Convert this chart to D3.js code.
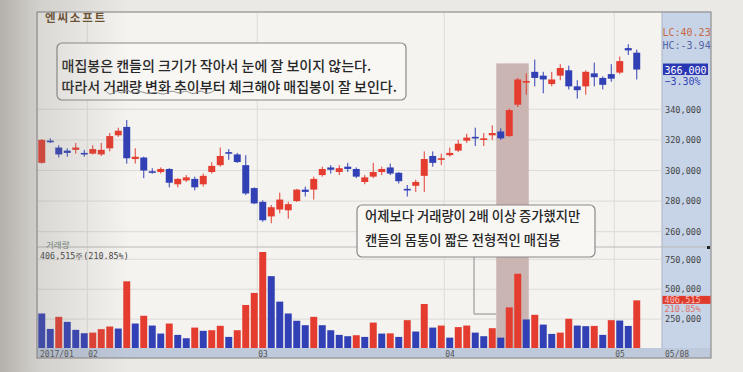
<!DOCTYPE html>
<html>
<head>
<meta charset="utf-8">
<script src="https://cdn.jsdelivr.net/npm/d3@7"></script>
<style>
  body { margin: 0; background: #eae8e4; overflow: hidden; }
  svg { display: block; }
</style>
</head>
<body>
<script>
// daily candles, 2017/01 .. 05/08 (71 trading days)
const opens  = [305000,319500,315000,313000,313500,311500,311000,310500,314500,323000,
                328500,307500,308500,299500,299000,301000,291000,293500,294500,291000,
                299000,303500,312000,310500,303500,288500,279500,270000,274500,274000,
                280000,287500,287500,297000,302000,299000,302500,301000,292500,296000,
                299000,302000,298500,288000,290000,296500,309500,307000,310000,313000,
                319500,322000,320000,323000,325500,322500,343000,357500,364500,362000,
                356500,362000,365500,355000,355000,363500,360500,363000,364000,380000,
                377000];
const highs  = [320500,321000,316500,314500,318000,313500,316500,318000,324500,328000,
                333000,314500,309000,301500,302000,301500,295000,297000,296000,298000,
                305500,315000,314000,311500,310000,289000,280500,277500,285500,279500,
                288000,289500,296000,302500,303500,303500,305000,302000,297000,305000,
                302500,304500,299000,290500,294000,312500,312500,311000,315000,320000,
                324000,328000,324500,329500,327500,340500,360500,363500,372500,364500,
                364500,369500,368500,359000,365500,370500,361500,369500,374500,382500,
                379000];
const lows   = [304500,318000,308500,309000,311000,309000,310500,309500,312500,322000,
                304500,304500,295000,298000,298000,289000,289000,292500,287000,289500,
                298000,302500,307000,305000,284000,278000,266500,265500,272000,268500,
                279500,283000,281000,296000,298000,297000,299000,295000,291000,295000,
                297000,297000,291500,283000,286000,286000,302500,303500,309000,312000,
                318000,316000,316000,320000,320000,322000,341500,349500,355000,350500,
                355000,359000,353000,347000,349500,355000,353000,358000,363000,375500,
                359500];
const closes = [320000,319000,310500,311500,315000,310500,314000,313500,322500,326000,
                308000,309000,300000,298500,301000,292000,294500,295500,289000,296500,
                303000,309500,311000,305500,285000,278500,267500,276000,281000,278000,
                287500,286000,294500,301000,300500,301500,301000,296000,295500,299000,
                301000,298000,293000,287500,292500,307500,305000,308000,311500,317500,
                321500,321000,321000,324500,321000,339500,359500,358500,360500,359500,
                359500,367000,355000,352500,364500,361000,356000,360000,371500,378500,
                366000];
const volumes = [297000,168000,269000,227000,160000,132000,137000,166000,188000,171000,
                 566000,213000,278000,196000,129000,213000,118000, 90000,179000,152000,
                 157000,194000,101000,157000,368000,469000,811000,609000,396000,297000,
                 236000,199000,269000,199000,157000,118000,107000,115000,101000,221000,
                 129000,131000,101000,241000,146000,376000,179000,196000, 95000,183000,
                 196000,137000,107000,174000, 95000,348000,629000,247000,286000,204000,
                 126000,137000,253000,196000,191000,193000,118000,241000,238000,192800,
                 406515];

// month starts on the date axis (index of first trading day)
const monthIdx    = [0, 6, 26, 48, 68];
const monthLabels = ["2017/01", "02", "03", "04", "05"];
const priceTicks  = [260000, 280000, 300000, 320000, 340000];
const volTicks    = [250000, 500000, 750000];

const note1 = ["매집봉은 캔들의 크기가 작아서 눈에 잘 보이지 않는다.",
               "따라서 거래량 변화 추이부터 체크해야 매집봉이 잘 보인다."];
const note2 = ["어제보다 거래량이 2배 이상 증가했지만",
               "캔들의 몸통이 짧은 전형적인 매집봉"];

const RED = "#e43c2f", BLUE = "#3240b5";
const KR = "'Noto Sans CJK KR', 'Noto Sans', sans-serif";
const MONO = "'DejaVu Sans Mono', monospace";

/** Class drawing the HTS style candle + volume chart. */
class StockChart {
  constructor() {
    this.svg = d3.select("body").append("svg").attr("width", 743).attr("height", 372);
    this.x = d3.scaleBand().domain(d3.range(opens.length)).range([37.5, 641])
               .paddingInner(0.18).paddingOuter(0.09);
    this.yPrice = d3.scaleLinear().domain([260000, 340000]).range([231.7, 109.3]);
    this.yVol = d3.scaleLinear().domain([0, 750000]).range([349, 259.3]);
  }

  /** paper, frame, side panel, grid */
  drawBackground() {
    const svg = this.svg;
    const defs = svg.append("defs");
    const sh = defs.append("linearGradient").attr("id", "shade");
    sh.append("stop").attr("offset", 0).attr("stop-color", "#7d7974").attr("stop-opacity", 0.5);
    sh.append("stop").attr("offset", 0.3).attr("stop-color", "#7d7974").attr("stop-opacity", 0.22);
    sh.append("stop").attr("offset", 1).attr("stop-color", "#7d7974").attr("stop-opacity", 0);

    svg.append("rect").attr("width", 743).attr("height", 372).attr("fill", "#ebe9e5");
    svg.append("rect").attr("x", 37).attr("y", 12).attr("width", 674).attr("height", 346)
       .attr("fill", "#f4f3f0");
    // right value panel
    svg.append("rect").attr("x", 662).attr("y", 12).attr("width", 49).attr("height", 336)
       .attr("fill", "#c7d4e8");
    svg.append("line").attr("x1", 662).attr("x2", 662).attr("y1", 12).attr("y2", 348)
       .attr("stroke", "#aab4c4");

    const grid = svg.append("g").attr("stroke", "#dcdbd7").attr("stroke-width", 1);
    grid.selectAll(".pg").data(priceTicks).join("line")
        .attr("x1", 37).attr("x2", 662)
        .attr("y1", d => this.yPrice(d)).attr("y2", d => this.yPrice(d));
    grid.selectAll(".vg").data(volTicks).join("line")
        .attr("x1", 37).attr("x2", 662)
        .attr("y1", d => this.yVol(d)).attr("y2", d => this.yVol(d));
    grid.selectAll(".mg").data(monthIdx.slice(1)).join("line")
        .attr("x1", d => this.x(d) - 2).attr("x2", d => this.x(d) - 2)
        .attr("y1", 12).attr("y2", 348);

    // separator between price and volume panes
    svg.append("line").attr("x1", 37).attr("x2", 711).attr("y1", 247).attr("y2", 247)
       .attr("stroke", "#b9b9b9");
    svg.append("rect").attr("x", 707).attr("y", 246).attr("width", 3).attr("height", 3).attr("fill", "#222");
  }

  /** shaded column behind the two accumulation days + its leader */
  drawHighlight() {
    const x0 = this.x(54) - 1, x1 = this.x(57) + this.x.bandwidth() - 1;
    this.svg.append("rect").attr("x", x0).attr("y", this.yPrice(370000))
        .attr("width", x1 - x0).attr("height", 348 - this.yPrice(370000))
        .attr("fill", "#cbb5b2");
    this.svg.append("path").attr("d", `M474,257V314H${x0}`)
        .attr("fill", "none").attr("stroke", "#8a8a8a").attr("stroke-width", 1);
  }

  drawCandles() {
    const x = this.x, y = this.yPrice, bw = x.bandwidth();
    const data = opens.map((o, i) => ({ i, o, h: highs[i], l: lows[i], c: closes[i] }));
    const g = this.svg.append("g").selectAll("g").data(data).join("g")
        .attr("fill", d => d.c >= d.o ? RED : BLUE)
        .attr("stroke", d => d.c >= d.o ? RED : BLUE);
    g.append("line")
        .attr("x1", d => x(d.i) + bw / 2).attr("x2", d => x(d.i) + bw / 2)
        .attr("y1", d => y(d.h)).attr("y2", d => y(d.l)).attr("stroke-width", 1);
    g.append("rect")
        .attr("x", d => x(d.i)).attr("width", bw)
        .attr("y", d => y(Math.max(d.o, d.c)))
        .attr("height", d => Math.max(1.6, Math.abs(y(d.o) - y(d.c))))
        .attr("stroke", "none");
  }

  drawVolume() {
    const x = this.x, y = this.yVol;
    this.svg.append("g").selectAll("rect").data(volumes).join("rect")
        .attr("x", (d, i) => x(i)).attr("width", x.bandwidth())
        .attr("y", d => y(d)).attr("height", d => y(0) - y(d))
        .attr("fill", (d, i) => i > 0 && d >= volumes[i - 1] ? RED : BLUE);
  }

  drawAxes() {
    const svg = this.svg;
    const fmt = d3.format(",");
    const pa = svg.append("g").attr("transform", "translate(662,0)")
        .call(d3.axisRight(this.yPrice).tickValues(priceTicks).tickSize(0).tickPadding(3).tickFormat(fmt));
    const va = svg.append("g").attr("transform", "translate(662,0)")
        .call(d3.axisRight(this.yVol).tickValues(volTicks).tickSize(0).tickPadding(3).tickFormat(fmt));
    for (const a of [pa, va]) {
      a.select(".domain").remove();
      a.selectAll("text").attr("font-family", MONO).attr("font-size", 8.6).attr("fill", "#444");
    }

    // date strip
    svg.append("rect").attr("x", 37).attr("y", 348).attr("width", 674).attr("height", 10)
       .attr("fill", "#bec9db");
    svg.append("g").selectAll("text").data(monthIdx).join("text")
       .attr("x", (d, i) => i === 0 ? 40 : this.x(d) - 1).attr("y", 356.5)
       .attr("font-family", MONO).attr("font-size", 8).attr("fill", "#555")
       .text((d, i) => monthLabels[i]);
    svg.append("text").attr("x", 665).attr("y", 356.5).attr("font-family", MONO)
       .attr("font-size", 8).attr("fill", "#555").text("05/08");

    // frame
    svg.append("rect").attr("x", 37).attr("y", 12).attr("width", 674).attr("height", 346)
       .attr("fill", "none").attr("stroke", "#8f8f8f").attr("stroke-width", 1.2);
  }

  /** current value tags on the right panel */
  drawTags() {
    const svg = this.svg;
    const last = closes[closes.length - 1], prev = closes[closes.length - 2];
    const vLast = volumes[volumes.length - 1], vPrev = volumes[volumes.length - 2];
    const t = (x, y, s, fill, size) => svg.append("text").attr("x", x).attr("y", y)
        .attr("font-family", MONO).attr("font-size", size).attr("fill", fill).text(s);

    t(662.5, 36, "LC:40.23", "#c8683f", 10);
    t(662.5, 48.5, "HC:-3.94", "#5565a3", 10);
    const yl = this.yPrice(last);
    svg.append("rect").attr("x", 663).attr("y", yl - 6).attr("width", 45).attr("height", 11.5).attr("fill", "#2a38b3");
    t(664.5, yl + 4, d3.format(",")(last), "#fff", 10);
    t(664.5, yl + 15, d3.format(".2%")(last / prev - 1), "#3444b4", 10);

    const yv = this.yVol(vLast);
    svg.append("rect").attr("x", 662.5).attr("y", yv - 4.5).attr("width", 48).attr("height", 8).attr("fill", "#e03a2c");
    t(664.5, yv + 2.5, d3.format(",")(vLast), "#f7c3bd", 8.6);
    t(664.5, yv + 11.5, d3.format(".2%")(vLast / vPrev), "#df7468", 8.6);

    // pane titles
    svg.append("text").attr("x", 45).attr("y", 22).attr("font-family", KR).attr("font-size", 11.5)
       .attr("font-weight", "bold").attr("letter-spacing", 1.8).attr("fill", "#6a4f2c").text("엔씨소프트");
    svg.append("text").attr("x", 46).attr("y", 247.5).attr("font-family", KR).attr("font-size", 8.5)
       .attr("fill", "#71867a").text("거래량");
    svg.append("text").attr("x", 40).attr("y", 259).attr("font-family", MONO).attr("font-size", 8.4)
       .attr("fill", "#444")
       .text(`${d3.format(",")(vLast)}주(${d3.format(".2%")(vLast / vPrev)})`);
  }

  /** the two call-out boxes from the book */
  drawNotes() {
    const svg = this.svg;
    const box = (x, y, w, h, lines, size, lh, tx, ty) => {
      svg.append("rect").attr("x", x).attr("y", y).attr("width", w).attr("height", h).attr("rx", 5)
         .attr("fill", "#f8f7f4").attr("stroke", "#8a8a8a").attr("stroke-width", 1.2);
      svg.append("g").selectAll("text").data(lines).join("text")
         .attr("x", tx).attr("y", (d, i) => ty + i * lh)
         .attr("font-family", KR).attr("font-size", size).attr("font-weight", 500)
         .attr("fill", "#262626").text(d => d);
    };
    box(57, 43, 349, 57, note1, 14, 21.6, 61.5, 70.8);
    box(357, 205, 238, 52, note2, 13.3, 24, 365, 221);

    // hand drawn squiggle under "거래량 변화 추이"
    const wave = [[106,91],[111,96],[116,89],[121,95],[127,88],[133,95],[140,90],[148,95],[156,91],
                  [164,96],[172,89],[179,95],[186,89],[193,96],[200,89],[207,95],[215,90]];
    svg.append("path").attr("d", d3.line().curve(d3.curveBasis)(wave))
       .attr("fill", "none").attr("stroke", "#8f8f8f").attr("stroke-width", 1);
  }

  /** darker page edge near the spine of the book */
  drawShade() {
    this.svg.append("rect").attr("width", 130).attr("height", 372).attr("fill", "url(#shade)");
  }

  render() {
    this.drawBackground();
    this.drawHighlight();
    this.drawCandles();
    this.drawVolume();
    this.drawAxes();
    this.drawTags();
    this.drawNotes();
    this.drawShade();
  }
}

new StockChart().render();
</script>
</body>
</html>
